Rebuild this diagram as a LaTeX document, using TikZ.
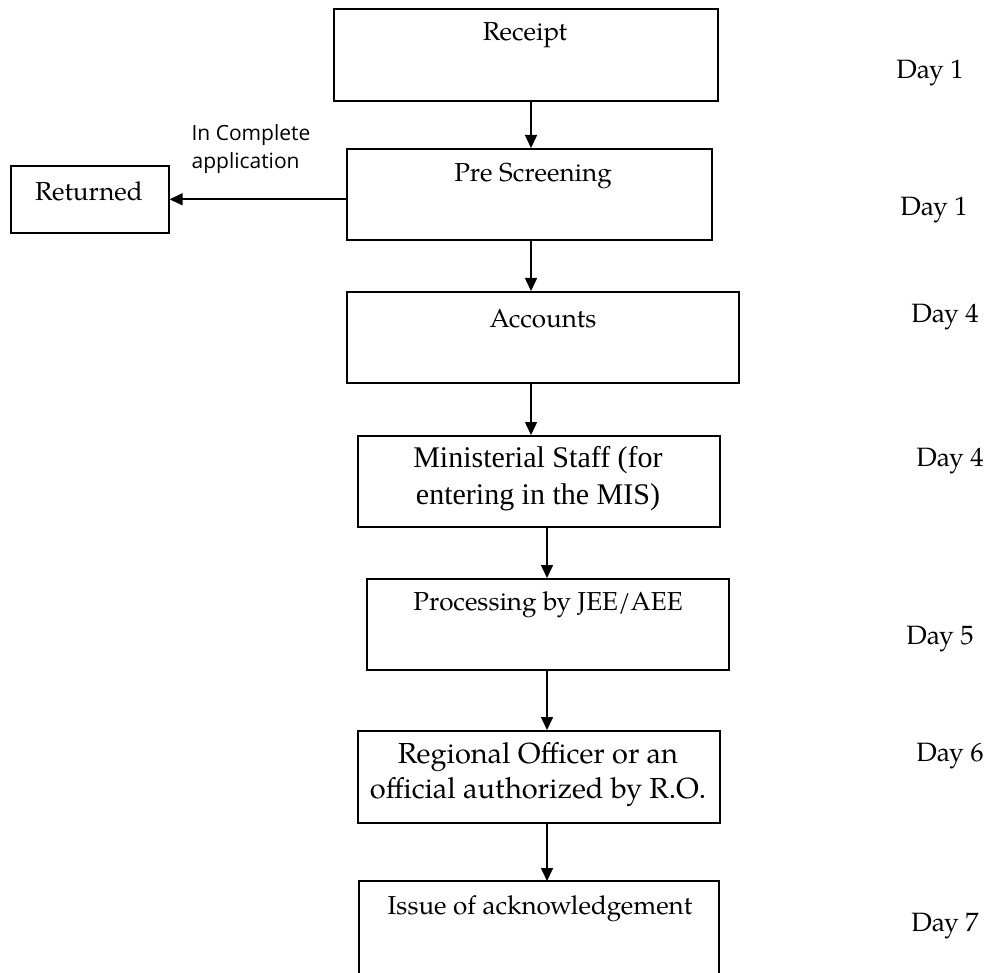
\documentclass[tikz,border=0pt]{standalone}
\usepackage{fontspec}
\setmainfont{TeX Gyre Pagella}
\newfontfamily\timesf{Liberation Serif}
\newfontfamily\sansf{Open Sans}
\usetikzlibrary{arrows.meta}
\begin{document}
\begin{tikzpicture}[x=1pt,y=-1pt,
  box/.style={draw, line width=1.6pt, rectangle, anchor=north west, inner sep=0pt},
  pal/.style={font=\fontsize{26}{35}\selectfont, align=center, inner sep=0pt},
  palbig/.style={font=\fontsize{29}{35}\selectfont, align=center, inner sep=0pt},
  tms/.style={font=\timesf\fontsize{30}{37}\selectfont, align=center, inner sep=0pt},
  daylbl/.style={font=\fontsize{26.5}{30}\selectfont, inner sep=0pt},
  note/.style={font=\sansf\fontsize{21}{28}\selectfont, align=left, inner sep=0pt},
  arr/.style={line width=1.6pt, -{Triangle[length=13pt,width=12pt]}}]
\useasboundingbox (0,0) rectangle (992,973);
% boxes
\node[box, minimum width=384, minimum height=92] (receipt) at (333,8) {};
\node[box, minimum width=365, minimum height=91] (pre) at (346,148) {};
\node[box, minimum width=158, minimum height=67] (returned) at (10,165) {};
\node[box, minimum width=392, minimum height=91] (accounts) at (346,291) {};
\node[box, minimum width=362, minimum height=91] (minist) at (357,435) {};
\node[box, minimum width=362, minimum height=91] (proc) at (366,578) {};
\node[box, minimum width=362, minimum height=92] (regional) at (357,730) {};
\draw[line width=1.6pt] (359,975) -- (359,881) -- (719,881) -- (719,975);
\coordinate (issuetop) at (547,881);
% texts
\node[pal] (t1) at (525,35) {Receipt};
\node[pal] (t2) at (533,176) {Pre Screening};
\node[pal] (t3) at (89,191) {Returned};
\node[pal] (t4) at (543,319) {Accounts};
\node[tms] (t5) at (538,479) {Ministerial Staff (for\\entering in the MIS)};
\node[pal] (t6) at (548,605) {Processing by JEE/AEE};
\node[palbig] (t7) at (538,775) {Regional Officer or an\\official authorized by R.O.};
\node[pal] (t8) at (540,909) {Issue of acknowledgement};
\node[note] (lbl) at (251,149) {In Complete\\application};
% day labels
\node[daylbl] (d1) at (930,73) {Day 1};
\node[daylbl] (d2) at (934,210) {Day 1};
\node[daylbl] (d3) at (945,317) {Day 4};
\node[daylbl] (d4) at (950,461) {Day 4};
\node[daylbl] (d5) at (940,639) {Day 5};
\node[daylbl] (d6) at (950,756) {Day 6};
\node[daylbl] (d7) at (945,926) {Day 7};
% arrows
\coordinate (xa) at (531,0);
\coordinate (xb) at (547,0);
\draw[arr] (receipt.south -| xa) -- (pre.north -| xa);
\draw[arr] (pre.south -| xa) -- (accounts.north -| xa);
\draw[arr] (accounts.south -| xa) -- (minist.north -| xa);
\draw[arr] (minist.south -| xb) -- (proc.north -| xb);
\draw[arr] (proc.south -| xb) -- (regional.north -| xb);
\draw[arr] (regional.south -| xb) -- (issuetop);
\draw[arr] (pre.west |- returned.east) -- (returned.east);
\end{tikzpicture}
\end{document}
